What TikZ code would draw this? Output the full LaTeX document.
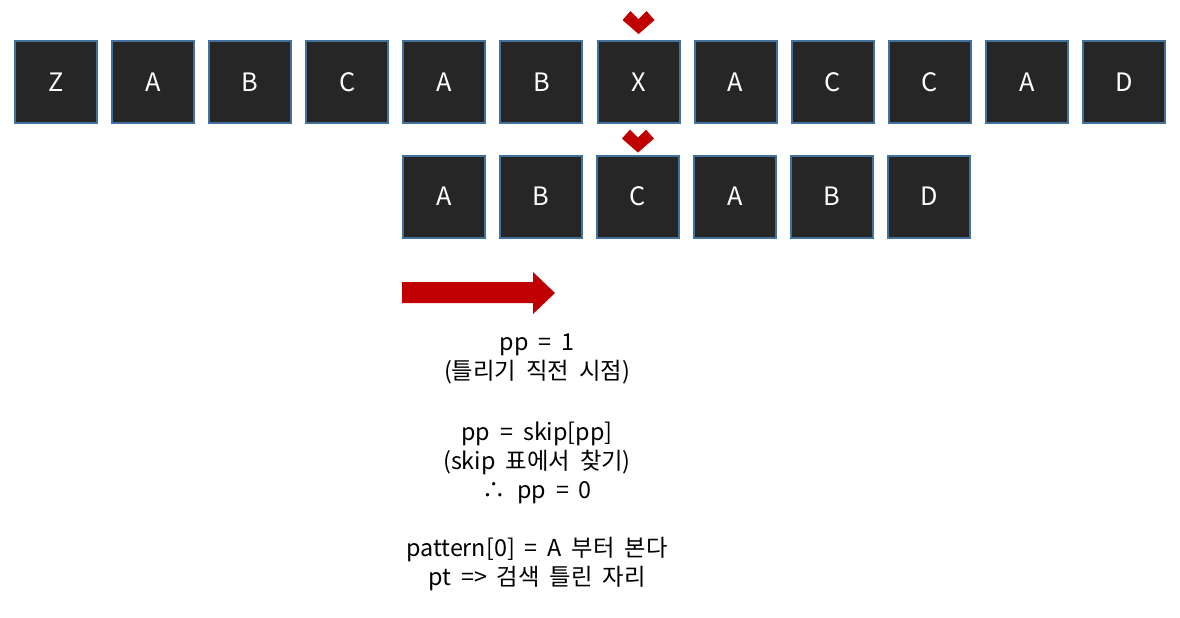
\documentclass[tikz,border=0pt]{standalone}
\usepackage{fontspec}
\setmainfont{Noto Sans CJK KR}[WordSpace=1.9]
\usepackage{tikz}
\usetikzlibrary{matrix}
\definecolor{cellfill}{HTML}{262626}
\definecolor{cellline}{HTML}{41719C}
\definecolor{hitred}{HTML}{C00000}
\newcommand{\hitmarker}[1]{\fill[hitred] (#1) -- ++(-16,-14) -- ++(8,-9) -- ++(8,8) -- ++(8,-8) -- ++(8,9) -- cycle;}

\begin{document}
\begin{tikzpicture}[x=0.75pt, y=-0.75pt,
	cell/.style={draw=cellline, fill=cellfill, line width=1.5pt, minimum size=61.5pt, inner sep=0pt, outer sep=0pt, text=white, font=\fontsize{19}{20}\selectfont},
	note/.style={align=center, font=\fontsize{17.5}{21.5}\selectfont}]
	\useasboundingbox[fill=white] (0,0) rectangle (1180,617);
	\matrix[matrix of nodes, name=t, nodes=cell, column sep=9.8pt, inner sep=0pt, outer sep=0pt] at (590,82) {
		Z&A&B&C&A&B&X&A&C&C&A&D\\ };
	\matrix[matrix of nodes, name=p, nodes=cell, column sep=9.8pt, inner sep=0pt, outer sep=0pt] at (686.5,196.5) {
		A&B&C&A&B&D\\ };
	\coordinate (tmark) at ([yshift=5.2pt]t-1-7.north);
	\coordinate (pmark) at ([yshift=2.2pt]p-1-3.north);
	\hitmarker{tmark}
	\hitmarker{pmark}
	\fill[hitred] (402,282) -- (533,282) -- (533,272) -- (555,293) -- (533,314) -- (533,303) -- (402,303) -- cycle;
	\node[note] (pp1) at (537,359) {pp = 1\\(틀리기 직전 시점)};
	\node[note] (pp0) at (537,463) {pp = skip[pp]\\(skip 표에서 찾기)\\∴\hspace{0.5em}pp = 0};
	\node[note] (pat) at (537,564) {pattern[0] = A 부터 본다\\pt => 검색 틀린 자리};
\end{tikzpicture}
\end{document}
